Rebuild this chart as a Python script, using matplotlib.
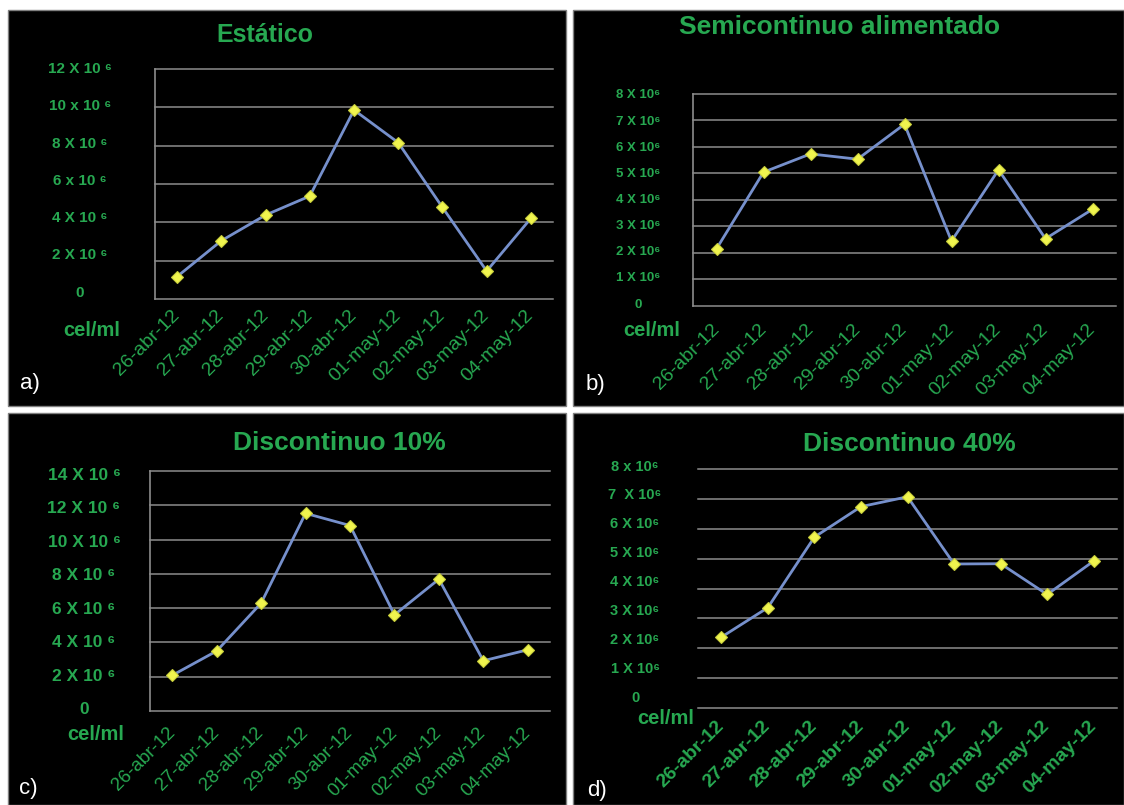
import matplotlib
matplotlib.use("Agg")
import matplotlib.pyplot as plt
from matplotlib.patches import Rectangle
from matplotlib.transforms import ScaledTranslation

# ---- data (cell density, units of 10^6 cel/ml) ----
dates = ["26-abr-12", "27-abr-12", "28-abr-12", "29-abr-12", "30-abr-12",
         "01-may-12", "02-may-12", "03-may-12", "04-may-12"]

estatico = [1.17, 3.04, 4.38, 5.37, 9.86, 8.16, 4.78, 1.46, 4.21]
semicontinuo = [2.16, 5.05, 5.74, 5.54, 6.86, 2.45, 5.14, 2.54, 3.65]
discontinuo10 = [2.08, 3.50, 6.29, 11.53, 10.82, 5.61, 7.69, 2.93, 3.57]
discontinuo40 = [2.37, 3.36, 5.72, 6.74, 7.07, 4.82, 4.83, 3.80, 4.92]

titles = ["Estático", "Semicontinuo alimentado", "Discontinuo 10%", "Discontinuo 40%"]
panel_tags = ["a)", "b)", "c)", "d)"]

ticks_a = [0, 2, 4, 6, 8, 10, 12]
labels_a = ["0", "2 X 10 ⁶", "4 X 10 ⁶", "6 x 10 ⁶", "8 X 10 ⁶", "10 x 10 ⁶", "12 X 10 ⁶"]
ticks_b = [0, 1, 2, 3, 4, 5, 6, 7, 8]
labels_b = ["0", "1 X 10⁶", "2 X 10⁶", "3 X 10⁶", "4 X 10⁶", "5 X 10⁶",
            "6 X 10⁶", "7 X 10⁶", "8 X 10⁶"]
ticks_c = [0, 2, 4, 6, 8, 10, 12, 14]
labels_c = ["0", "2 X 10 ⁶", "4 X 10 ⁶", "6 X 10 ⁶", "8 X 10 ⁶", "10 X 10 ⁶",
            "12 X 10 ⁶", "14 X 10 ⁶"]
ticks_d = [0, 1, 2, 3, 4, 5, 6, 7, 8]
labels_d = ["0", "1 X 10⁶", "2 X 10⁶", "3 X 10⁶", "4 X 10⁶", "5 X 10⁶",
            "6 X 10⁶", "7  X 10⁶", "8 x 10⁶"]

# ---- styling ----
W, H = 1124, 805
GREEN = "#27a851"
LINE = "#7690cc"
GRID = "#8c8c8c"
FONT = ["Liberation Sans", "DejaVu Sans"]
plt.rcParams["font.family"] = FONT

fig = plt.figure(figsize=(W / 100, H / 100), dpi=100, facecolor="white")


def fx(px):
    return px / W


def fy(py):
    return 1 - py / H


def rect(x0, y0, x1, y1):
    return [fx(x0), fy(y1), fx(x1) - fx(x0), fy(y0) - fy(y1)]


# panel layout: black box, plot area, title pos/size, tag pos,
# y-label centre x, ytick size, ytick offsets (top, bottom) in px,
# xtick size/weight/pad, cel/ml pos, left spine visible
panels = [
    dict(box=(8, 10, 566, 406), ax=(155, 69, 553, 299), title=(265, 35), tsize=18,
         tag=(30, 383), ycx=80, ysize=11, yoff=(1.5, 8), xsize=14, xweight="normal",
         xpad=10, cel=(92, 330), spine=True,
         values=estatico, ticks=ticks_a, labels=labels_a),
    dict(box=(573, 10, 1124, 406), ax=(693, 94, 1116, 306), title=(840, 27), tsize=19,
         tag=(595, 384), ycx=638, ysize=9.5, yoff=(0, 3), xsize=14, xweight="normal",
         xpad=15, cel=(652, 330), spine=True,
         values=semicontinuo, ticks=ticks_b, labels=labels_b),
    dict(box=(8, 413, 566, 805), ax=(150, 471, 550, 711), title=(339, 443), tsize=19,
         tag=(28, 788), ycx=84, ysize=12.5, yoff=(-3, 3), xsize=13.5, xweight="normal",
         xpad=14, cel=(96, 735), spine=True,
         values=discontinuo10, ticks=ticks_c, labels=labels_c),
    dict(box=(573, 413, 1124, 805), ax=(698, 469, 1117, 708), title=(909, 444), tsize=19,
         tag=(597, 790), ycx=635, ysize=10.5, yoff=(4, 12), xsize=14, xweight="bold",
         xpad=11, cel=(666, 718), spine=False,
         values=discontinuo40, ticks=ticks_d, labels=labels_d),
]

for i, p in enumerate(panels):
    # black background panel with a thin grey frame
    x0, y0, x1, y1 = p["box"]
    fig.patches.append(Rectangle((fx(x0), fy(y1)), fx(x1) - fx(x0), fy(y0) - fy(y1),
                                 transform=fig.transFigure, facecolor="black",
                                 edgecolor="#7f7f7f", linewidth=1, zorder=-5))

    ax = fig.add_axes(rect(*p["ax"]))
    ax.set_zorder(2)
    ax.patch.set_alpha(0)

    xs = list(range(len(dates)))
    ax.plot(xs, p["values"], color=LINE, linewidth=2, zorder=3,
            marker="D", markersize=6.5, markerfacecolor="#f0f44e",
            markeredgecolor="#c9cf3c", markeredgewidth=0.8)

    ax.set_xlim(-0.5, len(dates) - 0.5)
    ax.set_ylim(p["ticks"][0], p["ticks"][-1])

    for s in ["top", "right", "bottom"]:
        ax.spines[s].set_visible(False)
    ax.spines["left"].set_visible(p["spine"])
    ax.spines["left"].set_color(GRID)
    ax.spines["left"].set_linewidth(1.2)

    ax.yaxis.grid(True, color=GRID, linewidth=1.1, clip_on=False)
    ax.set_axisbelow(True)

    # y tick labels centred at a fixed column
    ax_left = p["ax"][0]
    ax.set_yticks(p["ticks"])
    ax.set_yticklabels(p["labels"])
    ax.tick_params(axis="y", length=0, pad=(ax_left - p["ycx"]) * 0.72)
    n = len(p["ticks"])
    top_off, bot_off = p["yoff"]
    for k, lab in enumerate(ax.get_yticklabels()):
        lab.set_horizontalalignment("center")
        lab.set_color(GREEN)
        lab.set_fontsize(p["ysize"])
        lab.set_fontweight("bold")
        lab.set_fontfamily(FONT)
        off = bot_off + (top_off - bot_off) * k / (n - 1)
        lab.set_transform(lab.get_transform() +
                          ScaledTranslation(0, off / 100, fig.dpi_scale_trans))

    # rotated date labels
    ax.set_xticks(xs)
    ax.set_xticklabels(dates, rotation=45, ha="right", va="center",
                       rotation_mode="anchor", color=GREEN,
                       fontsize=p["xsize"], fontweight=p["xweight"])
    ax.tick_params(axis="x", length=0, pad=p["xpad"])

    # title, unit label and panel tag
    fig.text(fx(p["title"][0]), fy(p["title"][1]), titles[i], ha="center", va="center",
             color=GREEN, fontsize=p["tsize"], fontweight="bold")
    fig.text(fx(p["cel"][0]), fy(p["cel"][1]), "cel/ml", ha="center", va="center",
             color=GREEN, fontsize=14.5, fontweight="bold")
    fig.text(fx(p["tag"][0]), fy(p["tag"][1]), panel_tags[i], ha="center", va="center",
             color="white", fontsize=16)

fig.savefig("out.png", dpi=100, facecolor="white")
